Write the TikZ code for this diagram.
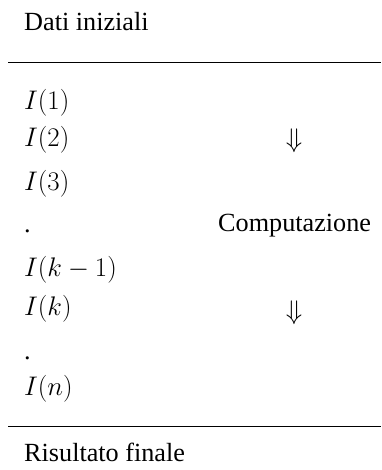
\documentclass[tikz,border=0pt]{standalone}
\usepackage{fontspec}
\setmainfont{Liberation Serif}
\begin{document}
\begin{tikzpicture}[x=1pt,y=-1pt,
  txt/.style={anchor=base west,inner sep=0pt,font=\fontsize{26.2}{30}\selectfont},
  mth/.style={anchor=base west,inner sep=0pt,scale=1.081,font=\fontsize{24.88}{30}\selectfont},
  arr/.style={anchor=base,inner sep=0pt,scale=1.081,font=\fontsize{24.88}{30}\selectfont},
  rule/.style={line width=1pt,black}]
\useasboundingbox (0,0) rectangle (381,470);
\node[txt] (dati) at (24,31) {Dati iniziali};
\coordinate (t1) at (8,63);
\coordinate (t2) at (381,63);
\draw[rule] (t1) -- (t2);
\node[mth] (i1) at (24,110) {$I(1)$};
\node[mth] (i2) at (24,147) {$I(2)$};
\node[mth] (i3) at (24,190) {$I(3)$};
\node[txt] (d1) at (24,232) {.};
\node[mth] (ik1) at (24,276) {$I(k-1)$};
\node[mth] (ik) at (24,315) {$I(k)$};
\node[txt] (d2) at (24,359) {.};
\node[mth] (in) at (24,395) {$I(n)$};
\node[arr] (a1) at (294,148) {$\Downarrow$};
\node[txt] (comp) at (218,231) {Computazione};
\node[arr] (a2) at (294,319) {$\Downarrow$};
\coordinate (b1) at (8,426);
\coordinate (b2) at (381,426);
\draw[rule] (b1) -- (b2);
\node[txt] (ris) at (24,461) {Risultato finale};
\end{tikzpicture}
\end{document}
